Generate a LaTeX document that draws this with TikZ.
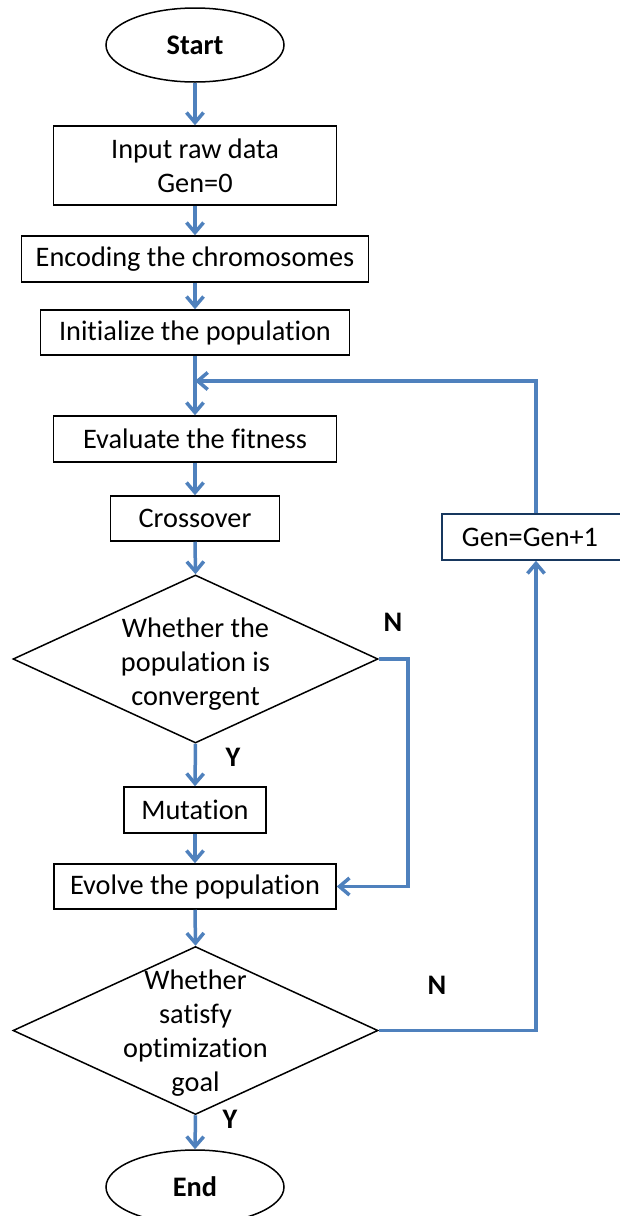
\documentclass[tikz,border=0pt]{standalone}
\usepackage{fontspec}
\setmainfont{Carlito}[Ligatures={NoCommon}]
\usetikzlibrary{shapes.geometric,arrows.meta}
\definecolor{flow}{RGB}{79,129,189}
\definecolor{navy}{RGB}{23,55,94}
\newcommand\chartfont{\fontsize{28.3}{34}\selectfont}

\begin{document}
\begin{tikzpicture}[x=1pt,y=-1pt,
  box/.style={draw=black, line width=1.5pt, rectangle, inner sep=0pt,
    align=center, font=\chartfont},
  terminal/.style={draw=black, line width=1.5pt, ellipse, inner sep=0pt,
    minimum width=178pt, minimum height=74pt, font=\chartfont\bfseries},
  decision/.style={draw=black, line width=1.5pt, diamond, inner sep=0pt,
    minimum width=365pt, minimum height=168pt},
  dtext/.style={align=center, font=\chartfont, inner sep=0pt},
  flowarrow/.style={draw=flow, line width=3.5pt,
    -{Straight Barb[length=10pt,width=17pt]}},
  answer/.style={font=\chartfont\bfseries, inner sep=0pt}
]
\useasboundingbox (0,0) rectangle (619,1216);

% main column
\node[terminal] (start) at (195,45) {Start};
\node[box, minimum width=283pt, minimum height=79pt] (input) at (195,165.5)
  {Input raw data\\Gen=0};
\node[box, minimum width=347pt, minimum height=46pt] (enc) at (195,259)
  {Encoding the chromosomes};
\node[box, minimum width=309pt, minimum height=45pt] (init) at (195,332.5)
  {Initialize the population};
\coordinate (join) at (195,381);
\node[box, minimum width=283pt, minimum height=46pt] (eval) at (195,439)
  {Evaluate the fitness};
\node[box, minimum width=169pt, minimum height=45pt] (cross) at (195,518.5)
  {Crossover};
\node[decision] (dec1) at (195.5,659) {};
\node[dtext] (dec1t) at (195.5,664) {Whether the\\population is\\convergent};
\node[box, minimum width=142pt, minimum height=46pt] (mut) at (195,810)
  {Mutation};
\node[box, minimum width=282pt, minimum height=45pt] (evol) at (195,886.5)
  {Evolve the population};
\node[decision] (dec2) at (195.5,1030.5) {};
\node[dtext] (dec2t) at (195.5,1033) {Whether\\satisfy\\optimization\\goal};
\node[terminal] (end) at (195,1187) {End};

% side box of the generation loop
\node[draw=navy, line width=1.5pt, rectangle, inner sep=0pt,
  minimum width=188pt, minimum height=46pt, font=\chartfont] (gen) at (536,537)
  {\hspace*{-6pt}Gen=Gen+1\hspace*{6pt}};

% branch labels
\node[answer] (n1) at (393,622) {N};
\node[answer] (y1) at (233,757) {Y};
\node[answer] (n2) at (437,985) {N};
\node[answer] (y2) at (230,1119) {Y};

% connectors
\draw[flowarrow] (start.south) -- (input.north);
\draw[flowarrow] (input.south) -- (enc.north);
\draw[flowarrow] (enc.south) -- (init.north);
\draw[flowarrow] (init.south) -- (eval.north);
\draw[flowarrow] (eval.south) -- (cross.north);
\draw[flowarrow] (cross.south) -- (dec1.north);
\draw[flowarrow] (dec1.south) -- (mut.north);
\draw[flowarrow] (mut.south) -- (evol.north);
\draw[flowarrow] (evol.south) -- (dec2.north);
\draw[flowarrow] (dec2.south) -- (end.north);
\draw[flowarrow] (dec1.east) -- ++(29,0) |- (evol.east);
\draw[flowarrow] (dec2.east) -| (gen.south);
\draw[flowarrow] (gen.north) |- (join);
\end{tikzpicture}
\end{document}
